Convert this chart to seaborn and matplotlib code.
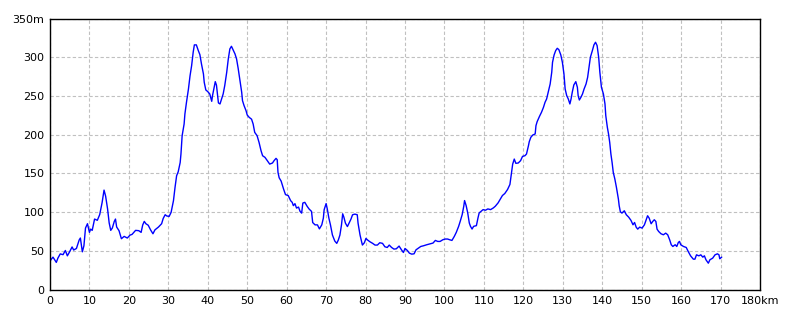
import matplotlib
matplotlib.use("Agg")
import matplotlib.pyplot as plt
import seaborn as sns
import pandas as pd

distance_km = [
    0.0, 0.2, 0.76, 1.6, 2.0, 2.6, 3.3, 3.9, 4.4, 5.0, 5.6, 6.0, 6.7, 7.4, 7.7, 8.2, 8.6, 9.0, 9.5,
    10.0, 10.3, 10.7, 11.3, 12.0, 12.6, 13.2, 13.7, 14.1, 14.6, 15.0, 15.4, 15.8, 16.3, 16.6, 16.9,
    17.5, 18.1, 18.8, 19.6, 20.3, 20.8, 21.7, 22.5, 23.1, 23.5, 23.9, 24.3, 24.9, 25.5, 26.1, 26.6,
    27.5, 28.3, 28.7, 29.2, 29.6, 30.2, 30.7, 31.3, 31.7, 32.1, 32.5, 33.0, 33.2, 33.5, 34.0, 34.2,
    34.6, 35.1, 35.5, 35.9, 36.3, 36.6, 37.1, 37.6, 38.0, 38.4, 38.9, 39.1, 39.5, 40.0, 40.5, 41.0,
    41.2, 41.6, 41.9, 42.2, 42.7, 43.1, 43.5, 43.9, 44.3, 44.8, 45.2, 45.6, 46.0, 46.5, 46.9, 47.3,
    47.7, 48.1, 48.6, 48.8, 49.2, 49.7, 50.0, 50.5, 51.1, 51.5, 51.9, 52.5, 53.0, 53.5, 53.9, 54.5,
    55.1, 55.7, 56.4, 56.8, 57.3, 57.6, 57.8, 58.1, 58.6, 59.2, 59.7, 60.4, 61.0, 61.4, 61.7, 62.1,
    62.5, 63.0, 63.4, 63.8, 64.1, 64.6, 65.2, 65.7, 66.3, 66.6, 67.2, 67.8, 68.3, 68.9, 69.3, 69.5,
    70.0, 70.3, 70.7, 71.1, 71.6, 72.2, 72.7, 73.1, 73.5, 73.9, 74.2, 74.5, 74.9, 75.4, 75.9, 76.3,
    76.7, 77.3, 77.9, 78.1, 78.6, 79.0, 79.2, 79.7, 80.1, 80.5, 81.1, 81.8, 82.4, 83.0, 83.6, 84.3,
    84.9, 85.5, 86.0, 86.6, 87.2, 87.8, 88.5, 89.1, 89.6, 90.0, 90.6, 91.1, 91.7, 92.3, 92.8, 93.4,
    94.0, 94.7, 95.5, 96.4, 97.1, 97.7, 98.3, 98.9, 99.6, 100.2, 100.8, 101.3, 101.9, 102.5, 103.0,
    103.6, 104.0, 104.5, 104.9, 105.1, 105.5, 105.9, 106.3, 106.6, 107.0, 107.4, 108.1, 108.5, 108.8,
    109.3, 109.8, 110.4, 111.0, 111.7, 112.4, 112.9, 113.6, 114.1, 114.7, 115.3, 116.0, 116.6, 117.0,
    117.3, 117.7, 118.1, 118.7, 119.3, 119.8, 120.4, 120.8, 121.3, 121.5, 121.9, 122.4, 123.0, 123.2,
    123.5, 124.1, 124.6, 125.1, 125.5, 125.9, 126.3, 126.8, 127.2, 127.4, 127.8, 128.2, 128.6, 129.0,
    129.5, 129.9, 130.3, 130.6, 131.0, 131.4, 131.8, 132.1, 132.4, 132.8, 133.3, 133.7, 133.9, 134.2,
    134.6, 135.0, 135.4, 135.9, 136.3, 136.7, 137.0, 137.5, 137.9, 138.3, 138.7, 139.1, 139.4, 139.8,
    140.3, 140.7, 140.9, 141.3, 141.6, 141.9, 142.2, 142.5, 142.8, 143.2, 143.6, 144.1, 144.3, 144.6,
    145.0, 145.6, 146.1, 146.7, 147.3, 147.8, 148.2, 148.6, 149.0, 149.5, 150.1, 150.7, 151.2, 151.5,
    151.9, 152.4, 152.8, 153.2, 153.6, 153.9, 154.3, 154.9, 155.5, 156.1, 156.6, 157.1, 157.5, 157.9,
    158.5, 158.9, 159.3, 159.6, 159.9, 160.6, 161.3, 161.8, 162.4, 163.1, 163.5, 163.9, 164.5, 165.0,
    165.5, 165.9, 166.3, 166.9, 167.3, 168.0, 168.6, 169.2, 169.6, 169.8, 170.3,
]

elevation_m = [
    36, 38.3, 41.8, 35, 40.5, 46, 45, 50.4, 43.5, 49, 55, 51, 53, 64, 66.5, 48.7, 56.5, 79.4, 85,
    73.8, 78, 76.4, 91, 89.4, 96.7, 112, 128.4, 120.6, 104, 86, 76.4, 79.4, 88, 91, 80.7,
    76, 65.6, 68.6, 66.5, 70.3, 71.2, 76.4, 76, 73.8, 83.3, 88, 85, 83, 77, 72, 77,
    80.7, 85, 91.8, 96.6, 95, 94.4, 99.6, 114.7, 132, 147, 152, 164, 175, 198.7, 213.8, 226.7,
    241.8, 259, 276, 289, 306.5, 316, 316, 308.6, 303.4, 291.4, 278.4, 267.7, 257.8, 255.6, 252.6, 243.1,
    250.4, 261, 268.5, 264, 241, 239.7, 246, 252.6, 263.4, 280.6, 297.8, 310.8, 314.2, 308.6, 304.3, 297.8,
    285.8, 272, 254.7, 244, 237.5, 231, 225.4, 222.4, 220, 213.8, 203, 198.7, 190, 179.3, 172.8, 170.7,
    166.4, 162, 163.4, 166.4, 169.4, 167.7, 151.3, 144.3, 140, 130, 122.6, 121.3, 114.8, 112.6, 108.3, 110.9,
    105.2, 106.5, 100.9, 98.7, 111.7, 112.6, 107.4, 103.9, 100.9, 86.5, 83.5, 83.5, 78.3, 83.5, 92.2, 103,
    111, 104, 92.2, 83.5, 70.4, 62.6, 59.6, 64, 70.4, 83.5, 97.8, 93.5, 85.7, 81.3, 86.5, 90.9,
    96.5, 97.4, 96.5, 85.7, 70.4, 61.7, 57.4, 60.4, 66, 64, 61.7, 59.6, 57.4, 57.4, 60.4, 59.6,
    55.2, 54.3, 57.4, 54.3, 52.2, 52.6, 56.1, 51.3, 47.8, 53, 50.4, 47, 45.7, 46.1, 51.3, 53.5,
    55.6, 56.5, 57.8, 59.1, 60, 63.4, 62.1, 62.1, 64.3, 65.2, 65.2, 64.3, 63.4, 68.6, 73.8,
    81.6, 88.1, 96.8, 107.6, 114.9, 108.4, 98.9, 85.9, 81.6, 78.1, 81.6, 82.5, 92.4, 98.9,
    101.1, 103.2, 102.4, 104.1, 103.2, 105.4, 107.6, 111.9, 116.2, 121.4, 124, 129.2, 135.7, 151.3,
    162, 168.5, 163, 163.4, 166.4, 172, 172.8, 175, 185.8, 190.9, 196.6, 199.6, 200.9, 211.6,
    216.8, 223.7, 228.9, 235.3, 241.8, 246.1, 254.7, 265.5, 280.6, 293.5, 303, 308.6, 311.6, 309.9,
    303, 293.5, 278.4, 259, 250.4, 246.1, 239.7, 246.1, 254.7, 264.2, 268.5, 261.2, 250.4, 244.8,
    248.3, 252.6, 259, 265.5, 274.1, 289.2, 300, 308.6, 316, 319.4, 315.1, 300, 280.6, 261.2,
    252.6, 239.7, 224.6, 209.5, 200.9, 190, 175, 164.2, 151.3, 142.7, 132, 116.8, 108.2, 100.4,
    98.7, 101.7, 96.6, 93.5, 89.2, 83.6, 86.6, 80.6, 78, 80.6, 79.3, 83.6, 90.9, 95.3,
    92.2, 84.9, 87.9, 90.1, 87.9, 78, 75, 72, 70.7, 72.8, 70.7, 64.2, 57.8, 55.6,
    57.8, 55.6, 60.8, 62.1, 57.8, 55.6, 54.3, 49.1, 43.5, 39.2, 39.2, 44.8, 43.5, 44.8,
    41.8, 43.5, 38.4, 34, 38.4, 40.5, 44.8, 46.1, 44.8, 39.7, 41.8,
]

x_ticks = list(range(0, 181, 10))
x_tick_labels = [str(v) for v in x_ticks[:-1]] + ["180km"]
y_ticks = list(range(0, 351, 50))
y_tick_labels = [str(v) for v in y_ticks[:-1]] + ["350m"]

df = pd.DataFrame({"km": distance_km, "m": elevation_m})

sns.set_style("white")
plt.rcParams["font.family"] = ["DejaVu Sans"]

fig = plt.figure(figsize=(8, 3.2), dpi=100)
ax = fig.add_axes([0.0625, 0.0953, 0.8875, 0.8467])

sns.lineplot(data=df, x="km", y="m", ax=ax, color="#0000FF", linewidth=1.0, sort=False)

ax.set_xlim(0, 180)
ax.set_ylim(0, 350)
ax.set_xticks(x_ticks)
ax.set_xticklabels(x_tick_labels)
ax.set_yticks(y_ticks)
ax.set_yticklabels(y_tick_labels)
ax.set_xlabel("")
ax.set_ylabel("")
ax.tick_params(axis="both", length=0, labelsize=8, colors="black")
ax.tick_params(axis="x", pad=5)
ax.tick_params(axis="y", pad=4)
ax.grid(True, color="#c0c0c0", linestyle=(0, (3, 2)), linewidth=0.8)
ax.set_axisbelow(True)
for s in ax.spines.values():
    s.set_visible(True)
    s.set_color("black")
    s.set_linewidth(1.0)

fig.savefig("out.png", dpi=100, facecolor="white")
